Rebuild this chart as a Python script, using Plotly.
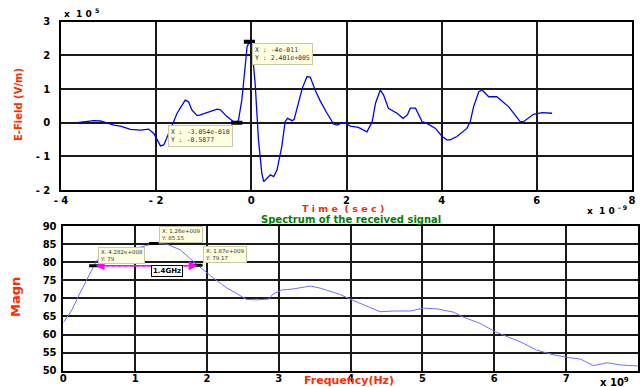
import plotly.graph_objects as go

# ---- received pulse (time in ns, field in 1e5 V/m) ----
t_ns = [-3.66, -3.31, -3.17, -2.89, -2.75, -2.54, -2.33, -2.16, -2.05, -1.91, -1.84,
        -1.67, -1.56, -1.39, -1.32, -1.25, -1.14, -1.07, -0.93, -0.72, -0.65, -0.51,
        -0.37, -0.305, -0.27, -0.2, -0.13, -0.09, -0.04, 0.01, 0.08, 0.15, 0.22, 0.26,
        0.33, 0.40, 0.47, 0.54, 0.64, 0.71, 0.76, 0.86, 0.90, 1.07, 1.17, 1.24, 1.34,
        1.45, 1.59, 1.73, 1.80, 1.91, 1.97, 2.08, 2.25, 2.43, 2.54, 2.61, 2.71, 2.78,
        2.88, 3.06, 3.19, 3.28, 3.34, 3.45, 3.59, 3.69, 3.87, 4.01, 4.11, 4.18, 4.32,
        4.53, 4.60, 4.67, 4.78, 4.85, 4.99, 5.16, 5.41, 5.65, 5.72, 5.93, 6.11, 6.32]
e_field = [0.0, 0.06, 0.05, -0.07, -0.10, -0.20, -0.22, -0.19, -0.32, -0.69, -0.66,
           -0.07, 0.28, 0.67, 0.62, 0.38, 0.21, 0.23, 0.30, 0.40, 0.38, 0.18,
           0.02, 0.0, 0.08, 0.67, 1.66, 2.26, 2.401, 2.26, 1.17, -0.51, -1.50, -1.75,
           -1.65, -1.55, -1.60, -1.40, -0.71, 0.03, 0.13, 0.06, 0.10, 1.02, 1.37, 1.35, 0.97,
           0.64, 0.28, -0.04, -0.07, 0.0, 0.0, -0.10, -0.14, -0.27, 0.03, 0.58, 0.97, 0.82,
           0.43, 0.28, 0.13, 0.23, 0.43, 0.43, 0.03, -0.02, -0.17, -0.41, -0.51, -0.51, -0.41,
           -0.17, 0.03, 0.47, 0.92, 0.97, 0.77, 0.77, 0.47, 0.03, 0.03, 0.25, 0.30, 0.28]

# ---- spectrum (frequency in GHz, magnitude in dB) ----
f_ghz = [0.0, 0.12, 0.23, 0.33, 0.4282, 0.47, 0.56, 0.70, 0.97, 1.26, 1.44, 1.63,
         1.76, 1.87, 2.09, 2.28, 2.41, 2.55, 2.69, 2.86, 2.92, 3.04, 3.20, 3.44, 3.58,
         3.85, 3.99, 4.18, 4.41, 4.60, 4.83, 5.01, 5.20, 5.43, 5.57, 5.80, 6.01, 6.18,
         6.36, 6.59, 6.82, 7.01, 7.20, 7.38, 7.57, 7.75, 8.0]
magn = [63.3, 66.8, 71.4, 75.1, 79.0, 80.6, 81.5, 82.5, 83.6, 85.15, 85.0, 83.4,
        81.1, 79.17, 75.6, 72.8, 71.4, 69.7, 69.6, 69.8, 71.2, 72.3, 72.6, 73.4, 72.8,
        71.1, 69.8, 68.2, 66.3, 66.5, 66.5, 67.3, 67.1, 66.2, 64.8, 63.1, 60.8, 59.4,
        58.0, 55.7, 54.4, 53.7, 53.2, 51.4, 52.2, 51.6, 51.3]

# ---- data cursors (raw units as reported) ----
tip_top_x = [-4e-11, -3.054e-10]
tip_top_y = [2.401e5, -0.5877]
tip_bot_x = [4.282e8, 1.26e9, 1.87e9]
tip_bot_y = [79.0, 85.15, 79.17]
bandwidth_label = "1.4GHz"

W, H = 640, 387
def px(x):
    return x / W
def py(y):
    return 1 - y / H

fig = go.Figure()

fig.add_trace(go.Scatter(x=t_ns, y=e_field, mode="lines",
                         line=dict(color="#0000ff", width=1.3),
                         xaxis="x", yaxis="y", hoverinfo="skip"))
fig.add_trace(go.Scatter(x=f_ghz, y=magn, mode="lines",
                         line=dict(color="#6f6fff", width=1),
                         xaxis="x2", yaxis="y2", hoverinfo="skip"))

# bandwidth arrow between the -6 dB points
fig.add_trace(go.Scatter(x=[tip_bot_x[0] / 1e9, tip_bot_x[2] / 1e9],
                         y=[tip_bot_y[0], tip_bot_y[0]], mode="lines",
                         line=dict(color="#ff00ff", width=1.2, dash="dot"),
                         xaxis="x2", yaxis="y2", hoverinfo="skip"))
fig.add_annotation(x=tip_bot_x[2] / 1e9, y=tip_bot_y[0], ax=tip_bot_x[0] / 1e9, ay=tip_bot_y[0],
                   xref="x2", yref="y2", axref="x2", ayref="y2", text="",
                   showarrow=True, arrowhead=2, arrowside="end+start",
                   arrowsize=1.2, arrowwidth=1.5, arrowcolor="#ff00ff")

# cursor markers
fig.add_trace(go.Scatter(x=[v * 1e9 for v in tip_top_x], y=[v / 1e5 for v in tip_top_y],
                         mode="markers", xaxis="x", yaxis="y", hoverinfo="skip",
                         marker=dict(symbol="line-ew", size=8,
                                     line=dict(color="black", width=4))))
fig.add_trace(go.Scatter(x=[v / 1e9 for v in tip_bot_x], y=tip_bot_y,
                         mode="markers", xaxis="x2", yaxis="y2", hoverinfo="skip",
                         marker=dict(symbol="line-ew", size=7,
                                     line=dict(color="black", width=3))))

tick_font = dict(family="DejaVu Sans", size=10, color="black", weight="bold")
grid = dict(showgrid=True, gridcolor="#1a1a1a", gridwidth=1.5, zeroline=False,
            showline=True, mirror=True, linecolor="black", linewidth=1.5,
            ticks="", tickfont=tick_font, fixedrange=True, automargin=False)

fig.update_layout(
    width=W, height=H,
    margin=dict(l=0, r=0, t=0, b=0, pad=0, autoexpand=False),
    paper_bgcolor="white", plot_bgcolor="white", showlegend=False,
    xaxis=dict(domain=[px(61), px(632)], range=[-4, 8], anchor="y",
               tickvals=[-4, -2, 0, 2, 4, 6, 8],
               ticktext=["- 4", "- 2", "0", "2", "4", "6", "8"],
               ticklabelstandoff=0, **grid),
    yaxis=dict(domain=[py(190), py(21.7)], range=[-2, 3], anchor="x",
               tickvals=[-2, -1, 0, 1, 2, 3],
               ticktext=["- 2", "- 1", "0", "1", "2", "3"],
               ticklabelstandoff=7, **grid),
    xaxis2=dict(domain=[px(63.3), px(638)], range=[0, 8], anchor="y2",
                tickvals=list(range(0, 9)), ticklabelstandoff=-2, **grid),
    yaxis2=dict(domain=[py(370.7), py(226)], range=[50, 90], anchor="x2",
                tickvals=list(range(50, 95, 5)), ticklabelstandoff=3, **grid),
)

label_red = dict(family="DejaVu Sans", color="#ff2a00", weight="bold")

def note(x, y, text, font, xanchor="center", **kw):
    fig.add_annotation(x=px(x), y=py(y), xref="paper", yref="paper", text=text,
                       showarrow=False, font=font, xanchor=xanchor, yanchor="middle", **kw)

# axis titles and exponents
note(18, 105, "E-Field (V/m)", dict(size=10, **label_red), textangle=-90)
note(343, 208, "T i m e  ( s e c )", dict(size=9.5, **label_red))
note(15, 297, "Magn", dict(size=13, **label_red), textangle=-90)
note(349, 380.5, "Frequency(Hz)", dict(size=11, **label_red))
note(351, 219, "Spectrum of the received signal",
     dict(family="DejaVu Sans", size=10, color="#008000", weight="bold"))
note(62, 13, "x  1 0 <sup>5</sup>", dict(family="DejaVu Sans", size=9, color="black", weight="bold"),
     xanchor="left")
note(585, 210, "x  1 0 <sup>- 9</sup>", dict(family="DejaVu Sans", size=9, color="black", weight="bold"),
     xanchor="left")
note(598, 382, "x 10<sup>9</sup>", dict(family="DejaVu Sans", size=10, color="black", weight="bold"),
     xanchor="left")

# data cursor boxes
tip_style = dict(showarrow=False, bgcolor="#ffffe1", bordercolor="#c8c8a8",
                 borderwidth=1, borderpad=2, align="left")
tf_top = dict(family="DejaVu Sans Mono", size=6.5, color="#333333")
fig.add_annotation(x=tip_top_x[0] * 1e9, y=tip_top_y[0] / 1e5, xref="x", yref="y",
                   text="X : -4e-011<br>Y : 2.401e+005", font=tf_top,
                   xanchor="left", yanchor="top", xshift=3, yshift=-1, **tip_style)
fig.add_annotation(x=tip_top_x[1] * 1e9, y=tip_top_y[1] / 1e5, xref="x", yref="y",
                   text="X : -3.054e-010<br>Y : -0.5877", font=tf_top,
                   xanchor="right", yanchor="top", xshift=-4, yshift=-2, **tip_style)

tf_bot = dict(family="DejaVu Sans", size=5.5, color="#333333")
bot_tips = [("X: 4.282e+008<br>Y: 79", 4, 2),
            ("X: 1.26e+009<br>Y: 85.15", 5, 1),
            ("X: 1.87e+009<br>Y: 79.17", 5, 2)]
for (txt, dx, dy), fx, fy in zip(bot_tips, tip_bot_x, tip_bot_y):
    fig.add_annotation(x=fx / 1e9, y=fy, xref="x2", yref="y2", text=txt, font=tf_bot,
                       xanchor="left", yanchor="bottom", xshift=dx, yshift=dy,
                       showarrow=False, bgcolor="#ffffe1", bordercolor="#c8c8a8",
                       borderwidth=1, borderpad=1, align="left")

note(167, 271, bandwidth_label, dict(family="DejaVu Sans", size=7, color="black", weight="bold"),
     bgcolor="white", bordercolor="black", borderwidth=1, borderpad=1)

fig.write_html("out.html")
